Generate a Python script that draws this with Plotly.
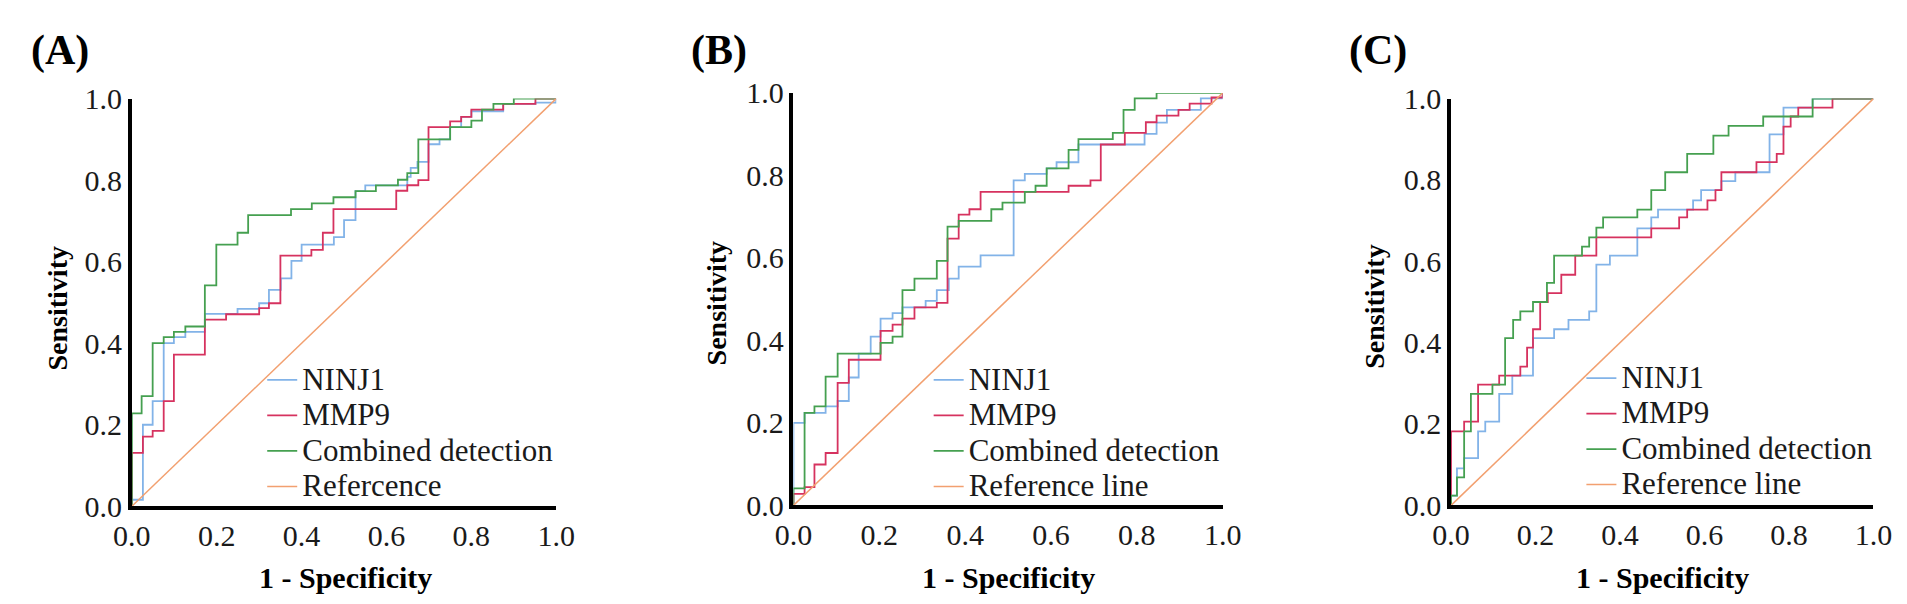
import plotly.graph_objects as go

# ---- data ----
a_ninj1_fpr = [0, 0, 0.026, 0.049, 0.075, 0.099, 0.126, 0.172, 0.249, 0.3, 0.323, 0.351, 0.376, 0.4, 0.476, 0.5, 0.527, 0.55, 0.649, 0.657, 0.673, 0.699, 0.725, 0.75, 0.776, 0.8, 0.875, 0.951, 1.0]
a_ninj1_tpr = [0, 0.016, 0.2, 0.258, 0.4, 0.415, 0.428, 0.472, 0.484, 0.498, 0.531, 0.559, 0.602, 0.642, 0.66, 0.702, 0.773, 0.787, 0.808, 0.83, 0.845, 0.888, 0.9, 0.93, 0.955, 0.969, 0.987, 0.99, 1.0]
a_mmp9_fpr = [0, 0, 0.026, 0.049, 0.075, 0.099, 0.172, 0.222, 0.3, 0.323, 0.35, 0.423, 0.45, 0.475, 0.623, 0.649, 0.675, 0.699, 0.75, 0.776, 0.8, 0.875, 0.951, 1.0]
a_mmp9_tpr = [0, 0.131, 0.171, 0.185, 0.258, 0.372, 0.458, 0.471, 0.486, 0.498, 0.615, 0.629, 0.671, 0.729, 0.774, 0.7875, 0.8, 0.93, 0.944, 0.955, 0.973, 0.987, 1.0, 1.0]
a_comb_fpr = [0, 0, 0.023, 0.049, 0.075, 0.099, 0.126, 0.172, 0.199, 0.249, 0.274, 0.375, 0.424, 0.475, 0.527, 0.575, 0.627, 0.649, 0.675, 0.75, 0.8, 0.825, 0.852, 0.9, 1.0]
a_comb_tpr = [0, 0.228, 0.27, 0.4, 0.415, 0.428, 0.441, 0.542, 0.642, 0.671, 0.714, 0.729, 0.743, 0.758, 0.773, 0.787, 0.801, 0.817, 0.9, 0.93, 0.946, 0.973, 0.987, 1.0, 1.0]

b_ninj1_fpr = [0, 0, 0.026, 0.075, 0.103, 0.129, 0.152, 0.18, 0.203, 0.231, 0.254, 0.308, 0.334, 0.362, 0.385, 0.436, 0.513, 0.539, 0.59, 0.613, 0.664, 0.818, 0.846, 0.87, 0.949, 1.0]
b_ninj1_tpr = [0, 0.2, 0.224, 0.24, 0.253, 0.31, 0.368, 0.409, 0.453, 0.466, 0.48, 0.496, 0.522, 0.55, 0.579, 0.606, 0.788, 0.804, 0.817, 0.832, 0.875, 0.901, 0.928, 0.959, 0.987, 1.0]
b_mmp9_fpr = [0, 0, 0.026, 0.049, 0.075, 0.103, 0.129, 0.203, 0.231, 0.254, 0.282, 0.334, 0.359, 0.385, 0.41, 0.436, 0.641, 0.692, 0.716, 0.772, 0.821, 0.846, 0.897, 0.923, 0.974, 1.0]
b_mmp9_tpr = [0, 0.028, 0.044, 0.099, 0.127, 0.297, 0.353, 0.423, 0.438, 0.453, 0.48, 0.491, 0.647, 0.705, 0.718, 0.76, 0.775, 0.788, 0.875, 0.903, 0.929, 0.945, 0.959, 0.974, 0.989, 1.0]
b_comb_fpr = [0, 0, 0.026, 0.049, 0.075, 0.103, 0.203, 0.231, 0.254, 0.282, 0.334, 0.359, 0.385, 0.461, 0.487, 0.539, 0.564, 0.59, 0.641, 0.664, 0.744, 0.769, 0.795, 0.846, 1.0]
b_comb_tpr = [0, 0.041, 0.224, 0.24, 0.312, 0.368, 0.394, 0.409, 0.522, 0.55, 0.593, 0.676, 0.69, 0.718, 0.734, 0.76, 0.775, 0.817, 0.862, 0.888, 0.903, 0.959, 0.987, 1.0, 1.0]

c_ninj1_fpr = [0, 0, 0.014, 0.031, 0.064, 0.081, 0.114, 0.145, 0.194, 0.244, 0.278, 0.327, 0.344, 0.376, 0.441, 0.474, 0.49, 0.573, 0.592, 0.64, 0.673, 0.754, 0.787, 0.856, 1.0]
c_ninj1_tpr = [0, 0.024, 0.091, 0.116, 0.182, 0.206, 0.274, 0.319, 0.411, 0.433, 0.456, 0.477, 0.592, 0.614, 0.681, 0.708, 0.727, 0.75, 0.775, 0.797, 0.819, 0.912, 0.978, 1.0, 1.0]
c_mmp9_fpr = [0, 0, 0.031, 0.064, 0.114, 0.164, 0.18, 0.194, 0.211, 0.229, 0.261, 0.294, 0.344, 0.474, 0.54, 0.559, 0.607, 0.626, 0.64, 0.723, 0.771, 0.787, 0.804, 0.822, 0.903, 1.0]
c_mmp9_tpr = [0, 0.182, 0.206, 0.297, 0.319, 0.341, 0.388, 0.433, 0.5, 0.522, 0.567, 0.614, 0.659, 0.681, 0.708, 0.727, 0.75, 0.775, 0.819, 0.844, 0.864, 0.931, 0.956, 0.978, 1.0, 1.0]
c_comb_fpr = [0, 0, 0.014, 0.031, 0.047, 0.098, 0.128, 0.147, 0.164, 0.194, 0.227, 0.244, 0.31, 0.327, 0.344, 0.36, 0.441, 0.474, 0.507, 0.559, 0.621, 0.657, 0.739, 0.856, 1.0]
c_comb_tpr = [0, 0.024, 0.069, 0.182, 0.274, 0.297, 0.411, 0.456, 0.477, 0.5, 0.547, 0.614, 0.636, 0.659, 0.683, 0.708, 0.727, 0.775, 0.819, 0.864, 0.909, 0.933, 0.956, 1.0, 1.0]

ref_line = [0, 1]
series_names = ["NINJ1", "MMP9", "Combined detection"]
ref_names = ["Refercence", "Reference line", "Reference line"]
panel_labels = ["(A)", "(B)", "(C)"]
tick_vals = [0, 0.2, 0.4, 0.6, 0.8, 1.0]

colors = ["#82b3e8", "#d6325f", "#45a050", "#f2a070"]
W, H = 1907, 604
SERIF = "Liberation Serif"

# pixel boxes of the three plot areas: x0, x1, ytop, ybottom
boxes = [(107, 540, 78, 510), (782, 1220, 72, 509), (1453, 1884, 78, 509)]
legend_pos = [(240, 352), (920, 352), (1586, 350)]
label_x = [2, 675, 1347]
ytitle = [(31, 300), (703, 295), (1375, 299)]
xtitle = [(325, 585), (1001, 585), (1669, 585)]

panels = [
    [(a_ninj1_fpr, a_ninj1_tpr), (a_mmp9_fpr, a_mmp9_tpr), (a_comb_fpr, a_comb_tpr)],
    [(b_ninj1_fpr, b_ninj1_tpr), (b_mmp9_fpr, b_mmp9_tpr), (b_comb_fpr, b_comb_tpr)],
    [(c_ninj1_fpr, c_ninj1_tpr), (c_mmp9_fpr, c_mmp9_tpr), (c_comb_fpr, c_comb_tpr)],
]


def big(txt):
    # legend rows are spaced from the legend font size; the text itself is drawn larger
    return "<span style='font-size:31px'>%s</span>" % txt


fig = go.Figure()
layout = dict(
    width=W, height=H,
    margin=dict(l=0, r=0, t=0, b=0),
    paper_bgcolor="white", plot_bgcolor="white",
    font=dict(family=SERIF, color="black"),
    annotations=[],
)

for i, curves in enumerate(panels):
    n = "" if i == 0 else str(i + 1)
    xa, ya = "x" + n, "y" + n
    leg = "legend" + n
    for j, (fx, ty) in enumerate(curves):
        fig.add_trace(go.Scatter(
            x=fx, y=ty, mode="lines", name=big(series_names[j]),
            line=dict(color=colors[j], width=1.8, shape="hv"),
            xaxis=xa, yaxis=ya, legend=leg,
        ))
    fig.add_trace(go.Scatter(
        x=ref_line, y=ref_line, mode="lines", name=big(ref_names[i]),
        line=dict(color=colors[3], width=1.5),
        xaxis=xa, yaxis=ya, legend=leg,
    ))

    x0, x1, yt, yb = boxes[i]
    axis_common = dict(
        range=[0, 1], showgrid=False, zeroline=False, ticks="",
        showline=True, linecolor="black", linewidth=3.5,
        tickvals=tick_vals, tickformat=".1f",
        tickfont=dict(family=SERIF, size=30, color="#1a1a1a"),
    )
    layout["xaxis" + n] = dict(axis_common, domain=[x0 / W, x1 / W], anchor=ya)
    layout["yaxis" + n] = dict(axis_common, domain=[1 - yb / H, 1 - yt / H], anchor=xa)

    lx, ly = legend_pos[i]
    layout[leg] = dict(
        x=lx / W, y=1 - ly / H, xanchor="left", yanchor="top",
        bgcolor="rgba(0,0,0,0)", itemwidth=30, tracegroupgap=0,
        font=dict(family=SERIF, size=25, color="#1a1a1a"),
    )

    layout["annotations"] += [
        dict(text="<b>%s</b>" % panel_labels[i], x=label_x[i] / W, y=1 - 27 / H,
             xref="paper", yref="paper", xanchor="left", yanchor="middle",
             showarrow=False, font=dict(family=SERIF, size=42, color="black")),
        dict(text="<b>Sensitivity</b>", x=ytitle[i][0] / W, y=1 - ytitle[i][1] / H,
             xref="paper", yref="paper", xanchor="center", yanchor="middle",
             textangle=-90, showarrow=False, font=dict(family=SERIF, size=28, color="black")),
        dict(text="<b>1 - Specificity</b>", x=xtitle[i][0] / W, y=1 - xtitle[i][1] / H,
             xref="paper", yref="paper", xanchor="center", yanchor="middle",
             showarrow=False, font=dict(family=SERIF, size=30, color="black")),
    ]

fig.update_layout(**layout)
fig.write_html("out.html")
